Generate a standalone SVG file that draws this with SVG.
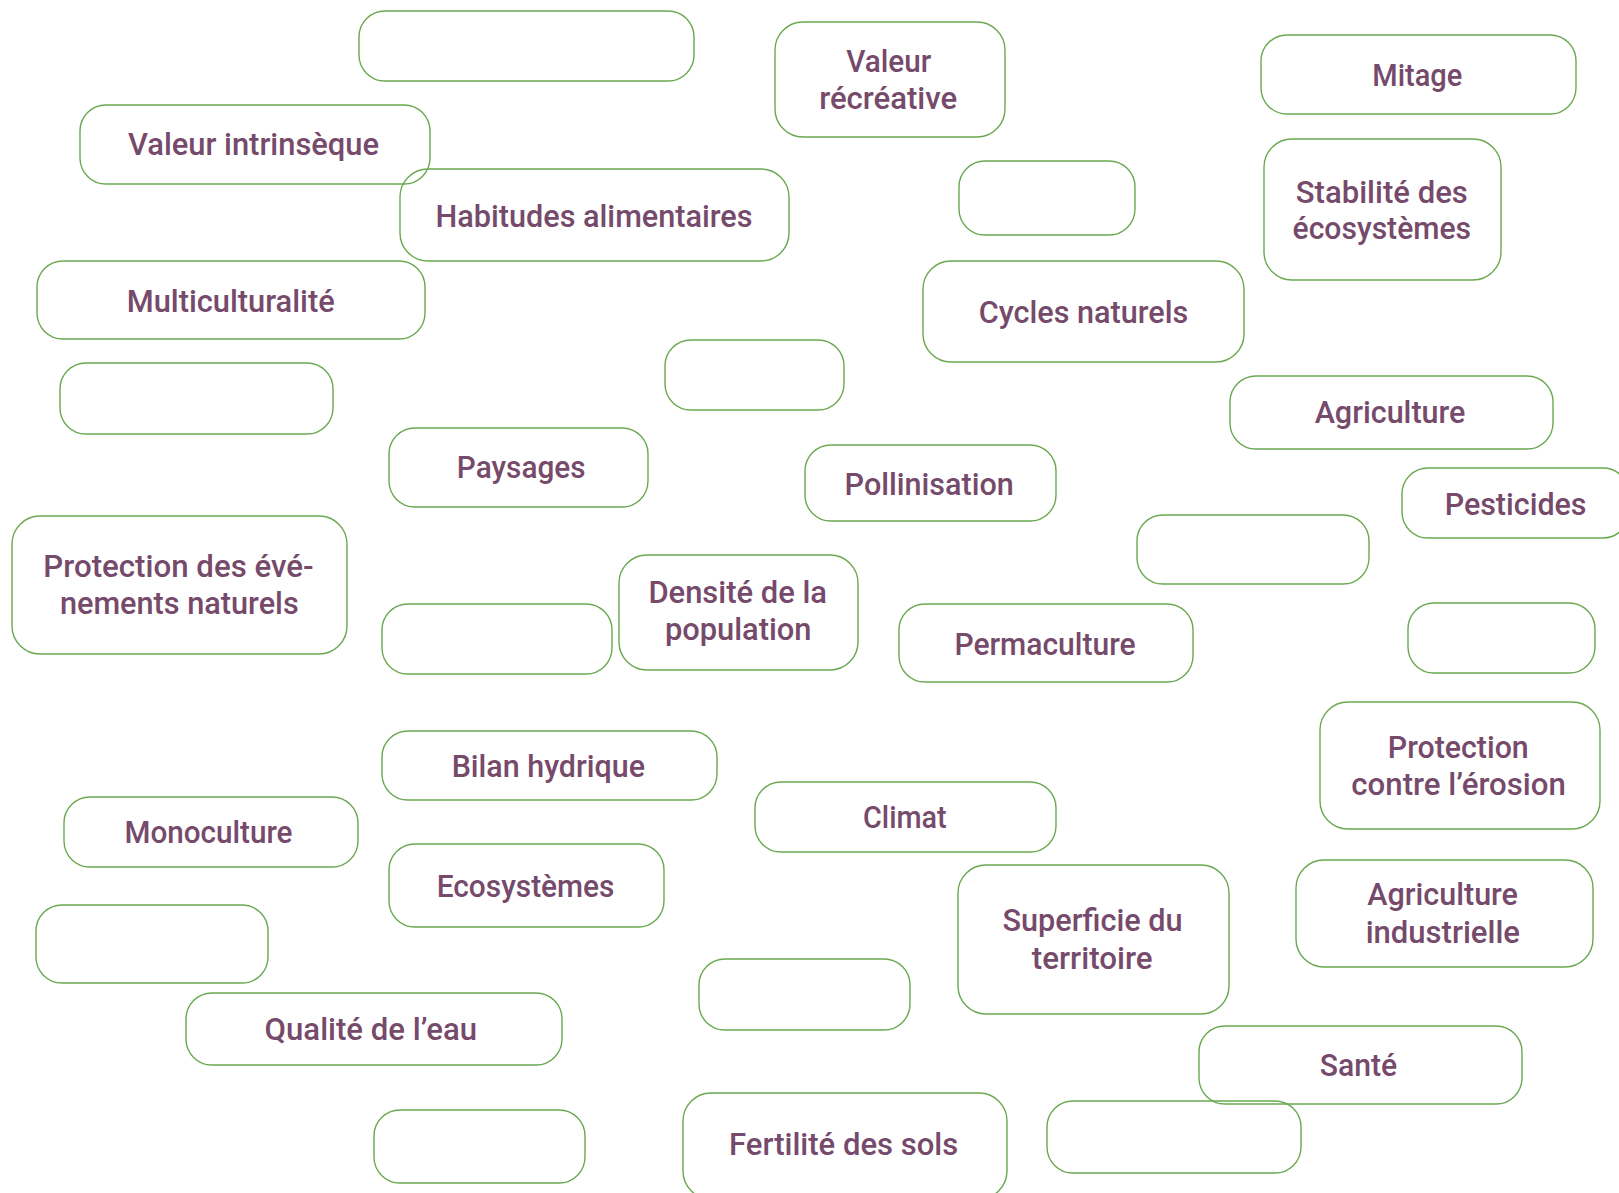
<svg xmlns="http://www.w3.org/2000/svg" width="1619" height="1193" viewBox="0 0 1619 1193">
<style>
.b{fill:none;stroke:#6aa951;stroke-width:1.4}
.t{font-family:Roboto,"Liberation Sans",sans-serif;font-weight:500;font-size:31.5px;fill:#764a6b;text-anchor:middle}
</style>
<rect width="1619" height="1193" fill="#ffffff"/>
<g id="n1"><rect class="b" x="359" y="11" width="335" height="70" rx="26"/></g>
<g id="n2"><rect class="b" x="80" y="105" width="350" height="79" rx="26"/><text class="t" x="253.5" y="155" textLength="251" lengthAdjust="spacingAndGlyphs">Valeur intrinsèque</text></g>
<g id="n3"><rect class="b" x="400" y="169" width="389" height="92" rx="28"/><text class="t" x="594" y="227.3" textLength="317" lengthAdjust="spacingAndGlyphs">Habitudes alimentaires</text></g>
<g id="n4"><rect class="b" x="37" y="261" width="388" height="78" rx="26"/><text class="t" x="230.7" y="311.7" textLength="208" lengthAdjust="spacingAndGlyphs">Multiculturalité</text></g>
<g id="n5"><rect class="b" x="60" y="363" width="273" height="71" rx="26"/></g>
<g id="n6"><rect class="b" x="775" y="22" width="230" height="115" rx="28"/><text class="t" x="888.7" y="72.3" textLength="85" lengthAdjust="spacingAndGlyphs">Valeur</text><text class="t" x="888.2" y="109.3" textLength="138" lengthAdjust="spacingAndGlyphs">récréative</text></g>
<g id="n7"><rect class="b" x="1261" y="35" width="315" height="79" rx="26"/><text class="t" x="1417.3" y="86" textLength="90" lengthAdjust="spacingAndGlyphs">Mitage</text></g>
<g id="n8"><rect class="b" x="959" y="161" width="176" height="74" rx="26"/></g>
<g id="n9"><rect class="b" x="1264" y="139" width="237" height="141" rx="28"/><text class="t" x="1381.8" y="202.7" textLength="172" lengthAdjust="spacingAndGlyphs">Stabilité des</text><text class="t" x="1381.8" y="239.3" textLength="178.5" lengthAdjust="spacingAndGlyphs">écosystèmes</text></g>
<g id="n10"><rect class="b" x="923" y="261" width="321" height="101" rx="28"/><text class="t" x="1083.5" y="323.3" textLength="209.5" lengthAdjust="spacingAndGlyphs">Cycles naturels</text></g>
<g id="n11"><rect class="b" x="665" y="340" width="179" height="70" rx="26"/></g>
<g id="n12"><rect class="b" x="1230" y="376" width="323" height="73" rx="26"/><text class="t" x="1390" y="423.3" textLength="150.7" lengthAdjust="spacingAndGlyphs">Agriculture</text></g>
<g id="n13"><rect class="b" x="389" y="428" width="259" height="79" rx="26"/><text class="t" x="521.2" y="478.3" textLength="128.7" lengthAdjust="spacingAndGlyphs">Paysages</text></g>
<g id="n14"><rect class="b" x="805" y="445" width="251" height="76" rx="26"/><text class="t" x="929.2" y="495" textLength="169.2" lengthAdjust="spacingAndGlyphs">Pollinisation</text></g>
<g id="n15"><rect class="b" x="1402" y="468" width="227" height="70" rx="26"/><text class="t" x="1515.6" y="514.5" textLength="141.9" lengthAdjust="spacingAndGlyphs">Pesticides</text></g>
<g id="n16"><rect class="b" x="1137" y="515" width="232" height="69" rx="26"/></g>
<g id="n17"><rect class="b" x="12" y="516" width="335" height="138" rx="28"/><text class="t" x="178.5" y="576.7" textLength="270.3" lengthAdjust="spacingAndGlyphs">Protection des évé-</text><text class="t" x="179.3" y="614.3" textLength="238.8" lengthAdjust="spacingAndGlyphs">nements naturels</text></g>
<g id="n18"><rect class="b" x="382" y="604" width="230" height="70" rx="26"/></g>
<g id="n19"><rect class="b" x="619" y="555" width="239" height="115" rx="28"/><text class="t" x="737.7" y="603.3" textLength="178.6" lengthAdjust="spacingAndGlyphs">Densité de la</text><text class="t" x="738.2" y="640" textLength="146.6" lengthAdjust="spacingAndGlyphs">population</text></g>
<g id="n20"><rect class="b" x="899" y="604" width="294" height="78" rx="26"/><text class="t" x="1045" y="655" textLength="181.1" lengthAdjust="spacingAndGlyphs">Permaculture</text></g>
<g id="n21"><rect class="b" x="1408" y="603" width="187" height="70" rx="26"/></g>
<g id="n22"><rect class="b" x="1320" y="702" width="280" height="127" rx="28"/><text class="t" x="1458.3" y="757.7" textLength="140.9" lengthAdjust="spacingAndGlyphs">Protection</text><text class="t" x="1458.6" y="795" textLength="214.6" lengthAdjust="spacingAndGlyphs">contre l’érosion</text></g>
<g id="n23"><rect class="b" x="382" y="731" width="335" height="69" rx="26"/><text class="t" x="548.3" y="776.7" textLength="193.3" lengthAdjust="spacingAndGlyphs">Bilan hydrique</text></g>
<g id="n24"><rect class="b" x="755" y="782" width="301" height="70" rx="26"/><text class="t" x="904.9" y="828.3" textLength="83.6" lengthAdjust="spacingAndGlyphs">Climat</text></g>
<g id="n25"><rect class="b" x="64" y="797" width="294" height="70" rx="26"/><text class="t" x="208.5" y="842.7" textLength="168" lengthAdjust="spacingAndGlyphs">Monoculture</text></g>
<g id="n26"><rect class="b" x="389" y="844" width="275" height="83" rx="26"/><text class="t" x="525.6" y="897" textLength="177.8" lengthAdjust="spacingAndGlyphs">Ecosystèmes</text></g>
<g id="n27"><rect class="b" x="36" y="905" width="232" height="78" rx="26"/></g>
<g id="n28"><rect class="b" x="958" y="865" width="271" height="149" rx="28"/><text class="t" x="1092.5" y="930.7" textLength="180.1" lengthAdjust="spacingAndGlyphs">Superficie du</text><text class="t" x="1092.2" y="969.3" textLength="120.7" lengthAdjust="spacingAndGlyphs">territoire</text></g>
<g id="n29"><rect class="b" x="1296" y="860" width="297" height="107" rx="28"/><text class="t" x="1442.6" y="905.3" textLength="150.7" lengthAdjust="spacingAndGlyphs">Agriculture</text><text class="t" x="1442.8" y="943.3" textLength="154.3" lengthAdjust="spacingAndGlyphs">industrielle</text></g>
<g id="n30"><rect class="b" x="699" y="959" width="211" height="71" rx="26"/></g>
<g id="n31"><rect class="b" x="186" y="993" width="376" height="72" rx="26"/><text class="t" x="370.8" y="1040" textLength="212.4" lengthAdjust="spacingAndGlyphs">Qualité de l’eau</text></g>
<g id="n32"><rect class="b" x="1199" y="1026" width="323" height="78" rx="26"/><text class="t" x="1358.5" y="1076" textLength="77.4" lengthAdjust="spacingAndGlyphs">Santé</text></g>
<g id="n33"><rect class="b" x="374" y="1110" width="211" height="73" rx="26"/></g>
<g id="n34"><rect class="b" x="683" y="1093" width="324" height="106" rx="28"/><text class="t" x="843.6" y="1155.3" textLength="229.2" lengthAdjust="spacingAndGlyphs">Fertilité des sols</text></g>
<g id="n35"><rect class="b" x="1047" y="1101" width="254" height="72" rx="26"/></g>
<g id="connectors"></g>
</svg>
